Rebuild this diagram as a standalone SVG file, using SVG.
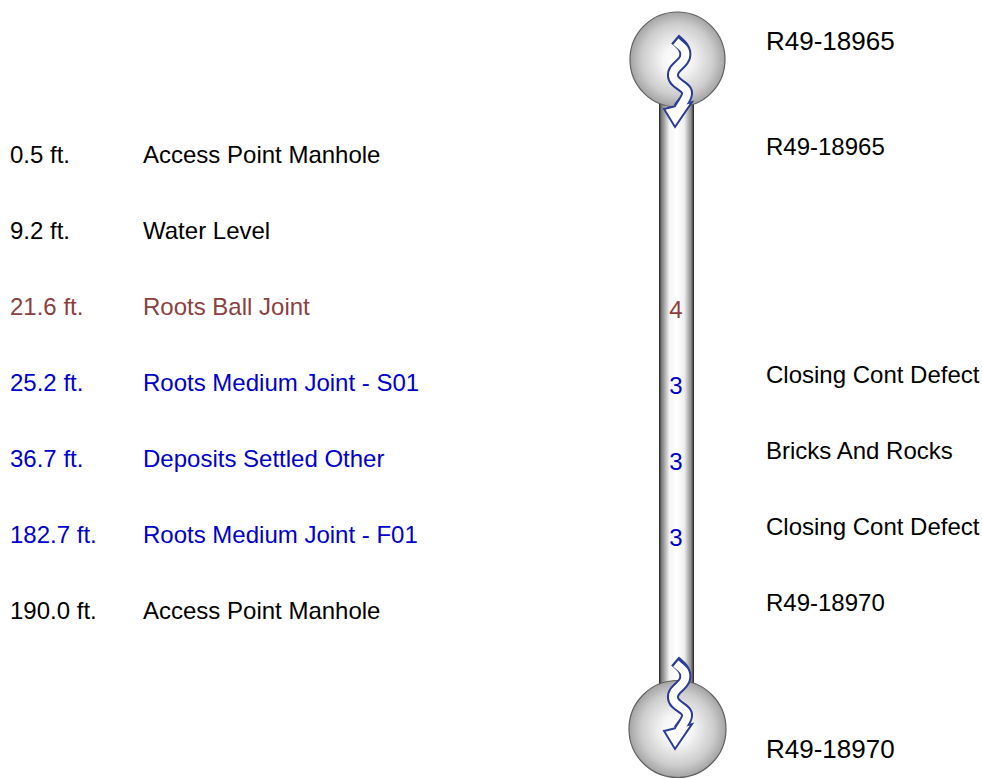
<svg xmlns="http://www.w3.org/2000/svg" xmlns:xlink="http://www.w3.org/1999/xlink" width="982" height="779" viewBox="0 0 982 779">
  <style>
    text { font-family: "Liberation Sans", Arial, sans-serif; font-size: 24px; }
    .blk { fill: #000000; }
    .brn { fill: #8b3f3f; }
    .blu { fill: #0000cc; }
    .big { font-size: 26px; }
    .grade { font-size: 24px; text-anchor: middle; }
    .flow-edge { fill: none; stroke: #2a3c96; stroke-width: 12; }
    .flow-core { fill: none; stroke: #ffffff; stroke-width: 8; }
    .flow-head { fill: #ffffff; stroke: #2a3c96; stroke-width: 2; stroke-linejoin: miter; }
    .manhole { fill: url(#ballFill); stroke: #606060; stroke-width: 1.2; }
  </style>
  <defs>
    <linearGradient id="pipeFill" x1="0" y1="0" x2="1" y2="0">
      <stop offset="0" stop-color="#1e1e1e"/>
      <stop offset="0.07" stop-color="#7a7a7a"/>
      <stop offset="0.3" stop-color="#f4f4f4"/>
      <stop offset="0.5" stop-color="#ffffff"/>
      <stop offset="0.72" stop-color="#f0f0f0"/>
      <stop offset="0.92" stop-color="#8a8a8a"/>
      <stop offset="1" stop-color="#1e1e1e"/>
    </linearGradient>
    <radialGradient id="ballFill" cx="0.5" cy="0.5" r="0.5">
      <stop offset="0" stop-color="#ffffff"/>
      <stop offset="0.3" stop-color="#f6f6f6"/>
      <stop offset="0.75" stop-color="#cdcdcd"/>
      <stop offset="1" stop-color="#a4a4a4"/>
    </radialGradient>
    <!-- wavy flow arrow: outlined band ending in a head -->
    <g id="flowArrow">
      <path class="flow-edge" d="M 675 39 C 681 44, 687 49, 685 57 C 683 65, 672 67, 673 76 C 674 85, 688 86, 687 94 C 686.5 99, 682 103, 679 108"/>
      <polygon class="flow-head" points="664,109 692,102 675,127"/>
      <path class="flow-core" d="M 675.8 41.6 C 681 46, 687 49, 685 57 C 683 65, 672 67, 673 76 C 674 85, 688 86, 687 94 C 686.5 99, 682 103, 678.5 110"/>
    </g>
  </defs>

  <!-- pipe body -->
  <g id="pipe">
    <rect x="659" y="95" width="35" height="600" fill="url(#pipeFill)"/>
  </g>

  <!-- manholes -->
  <g id="manhole-upstream">
    <circle class="manhole" cx="677.5" cy="59.5" r="47.5"/>
    <use xlink:href="#flowArrow"/>
  </g>
  <g id="manhole-downstream">
    <circle class="manhole" cx="677.5" cy="729" r="48.5"/>
    <use xlink:href="#flowArrow" transform="translate(0,622)"/>
  </g>

  <!-- manhole names -->
  <g id="label-upstream"><text class="blk big" x="766" y="50">R49-18965</text></g>
  <g id="label-downstream"><text class="blk big" x="766" y="758">R49-18970</text></g>

  <!-- observations along the pipe -->
  <g id="obs-1">
    <text class="blk" x="10" y="163">0.5 ft.</text>
    <text class="blk" x="143" y="163">Access Point Manhole</text>
    <text class="blk" x="766" y="155">R49-18965</text>
  </g>
  <g id="obs-2">
    <text class="blk" x="10" y="239">9.2 ft.</text>
    <text class="blk" x="143" y="239">Water Level</text>
  </g>
  <g id="obs-3">
    <text class="brn" x="10" y="315">21.6 ft.</text>
    <text class="brn" x="143" y="315">Roots Ball Joint</text>
    <text class="brn grade" x="676" y="318">4</text>
  </g>
  <g id="obs-4">
    <text class="blu" x="10" y="391">25.2 ft.</text>
    <text class="blu" x="143" y="391">Roots Medium Joint - S01</text>
    <text class="blu grade" x="676" y="394">3</text>
    <text class="blk" x="766" y="383">Closing Cont Defect</text>
  </g>
  <g id="obs-5">
    <text class="blu" x="10" y="467">36.7 ft.</text>
    <text class="blu" x="143" y="467">Deposits Settled Other</text>
    <text class="blu grade" x="676" y="470">3</text>
    <text class="blk" x="766" y="459">Bricks And Rocks</text>
  </g>
  <g id="obs-6">
    <text class="blu" x="10" y="543">182.7 ft.</text>
    <text class="blu" x="143" y="543">Roots Medium Joint - F01</text>
    <text class="blu grade" x="676" y="546">3</text>
    <text class="blk" x="766" y="535">Closing Cont Defect</text>
  </g>
  <g id="obs-7">
    <text class="blk" x="10" y="619">190.0 ft.</text>
    <text class="blk" x="143" y="619">Access Point Manhole</text>
    <text class="blk" x="766" y="611">R49-18970</text>
  </g>
</svg>
